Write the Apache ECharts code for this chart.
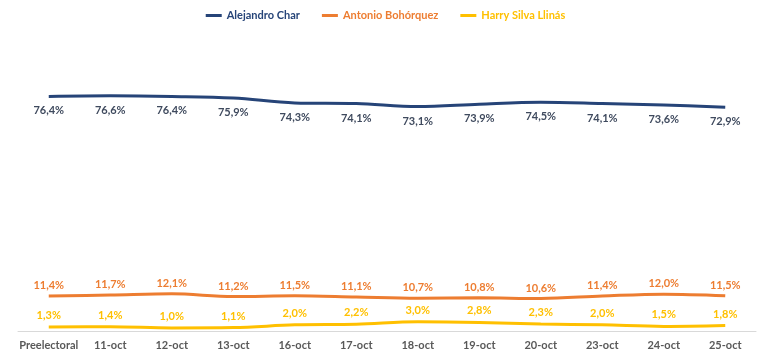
<!DOCTYPE html>
<html>
<head>
<meta charset="utf-8">
<script src="https://cdn.jsdelivr.net/npm/echarts@6/dist/echarts.min.js"></script>
<style>html,body{margin:0;padding:0;background:#fff}#c{width:771px;height:357px}</style>
</head>
<body>
<div id="c"></div>
<script>
const categories = ['Preelectoral','11-oct','12-oct','13-oct','16-oct','17-oct','18-oct','19-oct','20-oct','23-oct','24-oct','25-oct'];
const alejandro = [76.4,76.6,76.4,75.9,74.3,74.1,73.1,73.9,74.5,74.1,73.6,72.9];
const antonio = [11.4,11.7,12.1,11.2,11.5,11.1,10.7,10.8,10.6,11.4,12.0,11.5];
const harry = [1.3,1.4,1.0,1.1,2.0,2.2,3.0,2.8,2.3,2.0,1.5,1.8];
const names = ['Alejandro Char','Antonio Bohórquez','Harry Silva Llinás'];

const font = 'Lato, "Liberation Sans", sans-serif';
const fmt = p => p.value.toFixed(1).replace('.', ',') + '%';
function mk(name, data, color, labelColor, pos, dist) {
  return {
    name, type: 'line', data, smooth: 0.35, symbol: 'circle', symbolSize: 0, showSymbol: true,
    lineStyle: { color, width: 3 }, itemStyle: { color },
    label: { show: true, position: pos, distance: dist, formatter: fmt, color: labelColor,
      fontFamily: font, fontWeight: 'bold', fontSize: 11 },
    labelLayout: { hideOverlap: false }
  };
}
const chart = echarts.init(document.getElementById('c'));
chart.setOption({
  animation: false,
  legend: {
    top: 5, left: 'center', itemGap: 22, itemWidth: 16, itemHeight: 3, icon: 'rect',
    data: names.map((n, i) => ({ name: n, textStyle: { color: ['#264478','#ED7D31','#FFC000'][i] } })),
    textStyle: { fontFamily: font, fontWeight: 'bold', fontSize: 11 }
  },
  grid: { left: 18, right: 15, top: 24, bottom: 26 },
  xAxis: {
    type: 'category', data: categories, boundaryGap: true,
    axisLine: { lineStyle: { color: '#D9D9D9', width: 1 } }, axisTick: { show: false },
    axisLabel: { color: '#595959', fontFamily: font, fontWeight: 'bold', fontSize: 11, margin: 9, interval: 0 }
  },
  yAxis: { type: 'value', min: 0, max: 100, show: false, splitLine: { show: false } },
  series: [
    mk(names[0], alejandro, '#264478', '#3F4A5E', 'bottom', 9),
    mk(names[1], antonio, '#ED7D31', '#ED7D31', 'top', 5),
    mk(names[2], harry, '#FFC000', '#FFC000', 'top', 6)
  ]
});
</script>
</body>
</html>
